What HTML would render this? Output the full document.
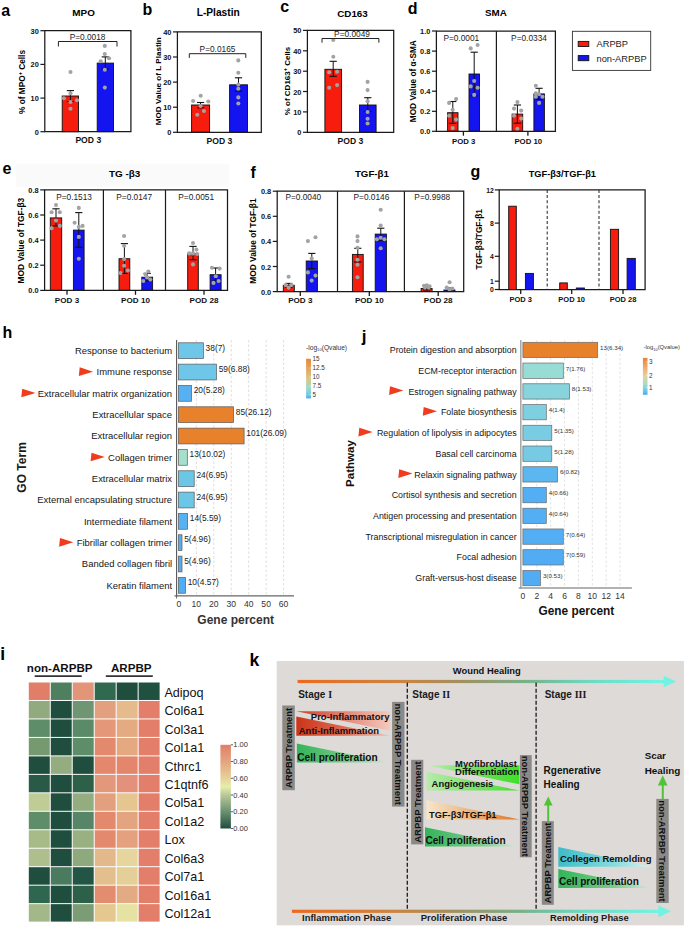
<!DOCTYPE html>
<html><head><meta charset="utf-8"><style>
html,body{margin:0;padding:0;background:#fff;}
body{width:685px;height:927px;overflow:hidden;}
svg{display:block;}
</style></head><body>
<svg width="685" height="927" viewBox="0 0 685 927">
<rect width="685" height="927" fill="#fff"/>
<text x="1.20" y="16.00" font-size="16" font-weight="bold" fill="#000" font-family='"Liberation Sans", sans-serif'>a</text>
<text x="83.60" y="15.84" font-size="9.9" font-weight="bold" text-anchor="middle" fill="#000" font-family='"Liberation Sans", sans-serif' >MPO</text>
<rect x="62.20" y="96.00" width="16.30" height="35.70" fill="#f61c0e" stroke="#111" stroke-width="0.9" />
<rect x="97.20" y="63.10" width="16.30" height="68.60" fill="#1414f0" stroke="#111" stroke-width="0.9" />
<line x1="70.40" y1="90.60" x2="70.40" y2="101.50" stroke="#111" stroke-width="1" />
<line x1="66.80" y1="90.60" x2="74.00" y2="90.60" stroke="#111" stroke-width="1.1" />
<line x1="66.80" y1="101.50" x2="74.00" y2="101.50" stroke="#111" stroke-width="1.1" />
<line x1="105.30" y1="56.90" x2="105.30" y2="69.20" stroke="#111" stroke-width="1" />
<line x1="101.70" y1="56.90" x2="108.90" y2="56.90" stroke="#111" stroke-width="1.1" />
<line x1="101.70" y1="69.20" x2="108.90" y2="69.20" stroke="#111" stroke-width="1.1" />
<circle cx="70.50" cy="72.00" r="2.05" fill="#a3a3a3"/>
<circle cx="70.50" cy="93.30" r="2.05" fill="#a3a3a3"/>
<circle cx="63.90" cy="98.30" r="2.05" fill="#a3a3a3"/>
<circle cx="70.50" cy="102.00" r="2.05" fill="#a3a3a3"/>
<circle cx="77.00" cy="100.30" r="2.05" fill="#a3a3a3"/>
<circle cx="70.50" cy="108.80" r="2.05" fill="#a3a3a3"/>
<circle cx="104.80" cy="45.90" r="2.05" fill="#a3a3a3"/>
<circle cx="104.80" cy="54.00" r="2.05" fill="#a3a3a3"/>
<circle cx="109.00" cy="58.30" r="2.05" fill="#a3a3a3"/>
<circle cx="100.70" cy="61.30" r="2.05" fill="#a3a3a3"/>
<circle cx="104.80" cy="69.70" r="2.05" fill="#a3a3a3"/>
<circle cx="104.80" cy="87.60" r="2.05" fill="#a3a3a3"/>
<path d="M44.80,30.70 L130.90,30.70 L130.90,131.70 L44.80,131.70 Z" fill="none" stroke="#1a1a1a" stroke-width="1.25"/>
<line x1="40.40" y1="30.70" x2="44.80" y2="30.70" stroke="#1a1a1a" stroke-width="1.2" />
<text x="38.80" y="33.75" font-size="7.4" font-weight="bold" text-anchor="end" fill="#111" font-family='"Liberation Sans", sans-serif' >30</text>
<line x1="40.40" y1="64.40" x2="44.80" y2="64.40" stroke="#1a1a1a" stroke-width="1.2" />
<text x="38.80" y="67.45" font-size="7.4" font-weight="bold" text-anchor="end" fill="#111" font-family='"Liberation Sans", sans-serif' >20</text>
<line x1="40.40" y1="98.10" x2="44.80" y2="98.10" stroke="#1a1a1a" stroke-width="1.2" />
<text x="38.80" y="101.15" font-size="7.4" font-weight="bold" text-anchor="end" fill="#111" font-family='"Liberation Sans", sans-serif' >10</text>
<line x1="40.40" y1="131.70" x2="44.80" y2="131.70" stroke="#1a1a1a" stroke-width="1.2" />
<text x="38.80" y="134.75" font-size="7.4" font-weight="bold" text-anchor="end" fill="#111" font-family='"Liberation Sans", sans-serif' >0</text>
<text x="88.30" y="143.28" font-size="8.6" font-weight="bold" text-anchor="middle" fill="#111" font-family='"Liberation Sans", sans-serif' >POD 3</text>
<path d="M58.4,46.5 L58.4,41.5 L117,41.5 L117,46.5" fill="none" stroke="#222" stroke-width="1"/>
<text x="87.60" y="39.77" font-size="8.3" font-weight="normal" text-anchor="middle" fill="#222" font-family='"Liberation Sans", sans-serif' >P=0.0018</text>
<text transform="translate(25.27,82.00) rotate(-90)" font-size="8.3" font-weight="bold" text-anchor="middle" fill="#000" font-family='"Liberation Sans", sans-serif'>% of MPO<tspan font-size="5.5" dy="-3">+</tspan><tspan dy="3"> Cells</tspan></text>
<text x="142.40" y="15.20" font-size="16" font-weight="bold" fill="#000" font-family='"Liberation Sans", sans-serif'>b</text>
<text x="218.20" y="15.95" font-size="10.2" font-weight="bold" text-anchor="middle" fill="#000" font-family='"Liberation Sans", sans-serif' >L-Plastin</text>
<rect x="191.60" y="105.00" width="18.00" height="27.30" fill="#f61c0e" stroke="#111" stroke-width="0.9" />
<rect x="229.60" y="84.80" width="17.90" height="47.50" fill="#1414f0" stroke="#111" stroke-width="0.9" />
<line x1="200.60" y1="102.50" x2="200.60" y2="107.80" stroke="#111" stroke-width="1" />
<line x1="197.00" y1="102.50" x2="204.20" y2="102.50" stroke="#111" stroke-width="1.1" />
<line x1="197.00" y1="107.80" x2="204.20" y2="107.80" stroke="#111" stroke-width="1.1" />
<line x1="238.50" y1="77.80" x2="238.50" y2="91.10" stroke="#111" stroke-width="1" />
<line x1="234.90" y1="77.80" x2="242.10" y2="77.80" stroke="#111" stroke-width="1.1" />
<line x1="234.90" y1="91.10" x2="242.10" y2="91.10" stroke="#111" stroke-width="1.1" />
<circle cx="200.70" cy="95.80" r="2.05" fill="#a3a3a3"/>
<circle cx="193.10" cy="101.00" r="2.05" fill="#a3a3a3"/>
<circle cx="208.30" cy="101.50" r="2.05" fill="#a3a3a3"/>
<circle cx="197.30" cy="114.80" r="2.05" fill="#a3a3a3"/>
<circle cx="203.90" cy="111.00" r="2.05" fill="#a3a3a3"/>
<circle cx="200.60" cy="106.00" r="2.05" fill="#a3a3a3"/>
<circle cx="238.30" cy="60.40" r="2.05" fill="#a3a3a3"/>
<circle cx="238.30" cy="72.80" r="2.05" fill="#a3a3a3"/>
<circle cx="238.30" cy="84.60" r="2.05" fill="#a3a3a3"/>
<circle cx="238.30" cy="88.80" r="2.05" fill="#a3a3a3"/>
<circle cx="238.30" cy="97.40" r="2.05" fill="#a3a3a3"/>
<circle cx="238.30" cy="103.50" r="2.05" fill="#a3a3a3"/>
<path d="M177.40,31.90 L261.30,31.90 L261.30,132.30 L177.40,132.30 Z" fill="none" stroke="#1a1a1a" stroke-width="1.25"/>
<line x1="173.00" y1="31.90" x2="177.40" y2="31.90" stroke="#1a1a1a" stroke-width="1.2" />
<text x="171.40" y="34.95" font-size="7.4" font-weight="bold" text-anchor="end" fill="#111" font-family='"Liberation Sans", sans-serif' >40</text>
<line x1="173.00" y1="57.00" x2="177.40" y2="57.00" stroke="#1a1a1a" stroke-width="1.2" />
<text x="171.40" y="60.05" font-size="7.4" font-weight="bold" text-anchor="end" fill="#111" font-family='"Liberation Sans", sans-serif' >30</text>
<line x1="173.00" y1="82.10" x2="177.40" y2="82.10" stroke="#1a1a1a" stroke-width="1.2" />
<text x="171.40" y="85.15" font-size="7.4" font-weight="bold" text-anchor="end" fill="#111" font-family='"Liberation Sans", sans-serif' >20</text>
<line x1="173.00" y1="107.20" x2="177.40" y2="107.20" stroke="#1a1a1a" stroke-width="1.2" />
<text x="171.40" y="110.25" font-size="7.4" font-weight="bold" text-anchor="end" fill="#111" font-family='"Liberation Sans", sans-serif' >10</text>
<line x1="173.00" y1="132.30" x2="177.40" y2="132.30" stroke="#1a1a1a" stroke-width="1.2" />
<text x="171.40" y="135.35" font-size="7.4" font-weight="bold" text-anchor="end" fill="#111" font-family='"Liberation Sans", sans-serif' >0</text>
<text x="219.40" y="144.48" font-size="8.6" font-weight="bold" text-anchor="middle" fill="#111" font-family='"Liberation Sans", sans-serif' >POD 3</text>
<path d="M189.3,57.9 L189.3,53.7 L245.8,53.7 L245.8,57.9" fill="none" stroke="#222" stroke-width="1"/>
<text x="217.50" y="51.97" font-size="8.3" font-weight="normal" text-anchor="middle" fill="#222" font-family='"Liberation Sans", sans-serif' >P=0.0165</text>
<text transform="translate(160.50,81.20) rotate(-90)" font-size="8.1" font-weight="bold" text-anchor="middle" fill="#000" font-family='"Liberation Sans", sans-serif'>MOD Value of L Plastin</text>
<text x="280.20" y="12.30" font-size="16" font-weight="bold" fill="#000" font-family='"Liberation Sans", sans-serif'>c</text>
<text x="352.50" y="16.61" font-size="9.8" font-weight="bold" text-anchor="middle" fill="#000" font-family='"Liberation Sans", sans-serif' >CD163</text>
<rect x="324.90" y="69.30" width="16.70" height="63.00" fill="#f61c0e" stroke="#111" stroke-width="0.9" />
<rect x="359.50" y="105.00" width="16.60" height="27.30" fill="#1414f0" stroke="#111" stroke-width="0.9" />
<line x1="333.20" y1="61.30" x2="333.20" y2="76.30" stroke="#111" stroke-width="1" />
<line x1="329.60" y1="61.30" x2="336.80" y2="61.30" stroke="#111" stroke-width="1.1" />
<line x1="329.60" y1="76.30" x2="336.80" y2="76.30" stroke="#111" stroke-width="1.1" />
<line x1="367.80" y1="97.70" x2="367.80" y2="111.60" stroke="#111" stroke-width="1" />
<line x1="364.20" y1="97.70" x2="371.40" y2="97.70" stroke="#111" stroke-width="1.1" />
<line x1="364.20" y1="111.60" x2="371.40" y2="111.60" stroke="#111" stroke-width="1.1" />
<circle cx="333.30" cy="40.00" r="2.05" fill="#a3a3a3"/>
<circle cx="333.30" cy="56.80" r="2.05" fill="#a3a3a3"/>
<circle cx="329.20" cy="72.20" r="2.05" fill="#a3a3a3"/>
<circle cx="337.10" cy="71.70" r="2.05" fill="#a3a3a3"/>
<circle cx="337.10" cy="85.10" r="2.05" fill="#a3a3a3"/>
<circle cx="329.20" cy="87.80" r="2.05" fill="#a3a3a3"/>
<circle cx="367.60" cy="81.90" r="2.05" fill="#a3a3a3"/>
<circle cx="367.60" cy="90.10" r="2.05" fill="#a3a3a3"/>
<circle cx="367.60" cy="101.20" r="2.05" fill="#a3a3a3"/>
<circle cx="367.60" cy="112.00" r="2.05" fill="#a3a3a3"/>
<circle cx="367.60" cy="118.70" r="2.05" fill="#a3a3a3"/>
<circle cx="367.60" cy="123.50" r="2.05" fill="#a3a3a3"/>
<path d="M307.40,30.40 L393.70,30.40 L393.70,132.30 L307.40,132.30 Z" fill="none" stroke="#1a1a1a" stroke-width="1.25"/>
<line x1="303.00" y1="30.40" x2="307.40" y2="30.40" stroke="#1a1a1a" stroke-width="1.2" />
<text x="301.40" y="33.45" font-size="7.4" font-weight="bold" text-anchor="end" fill="#111" font-family='"Liberation Sans", sans-serif' >50</text>
<line x1="303.00" y1="50.80" x2="307.40" y2="50.80" stroke="#1a1a1a" stroke-width="1.2" />
<text x="301.40" y="53.85" font-size="7.4" font-weight="bold" text-anchor="end" fill="#111" font-family='"Liberation Sans", sans-serif' >40</text>
<line x1="303.00" y1="71.20" x2="307.40" y2="71.20" stroke="#1a1a1a" stroke-width="1.2" />
<text x="301.40" y="74.25" font-size="7.4" font-weight="bold" text-anchor="end" fill="#111" font-family='"Liberation Sans", sans-serif' >30</text>
<line x1="303.00" y1="91.50" x2="307.40" y2="91.50" stroke="#1a1a1a" stroke-width="1.2" />
<text x="301.40" y="94.55" font-size="7.4" font-weight="bold" text-anchor="end" fill="#111" font-family='"Liberation Sans", sans-serif' >20</text>
<line x1="303.00" y1="111.90" x2="307.40" y2="111.90" stroke="#1a1a1a" stroke-width="1.2" />
<text x="301.40" y="114.95" font-size="7.4" font-weight="bold" text-anchor="end" fill="#111" font-family='"Liberation Sans", sans-serif' >10</text>
<line x1="303.00" y1="132.30" x2="307.40" y2="132.30" stroke="#1a1a1a" stroke-width="1.2" />
<text x="301.40" y="135.35" font-size="7.4" font-weight="bold" text-anchor="end" fill="#111" font-family='"Liberation Sans", sans-serif' >0</text>
<text x="350.50" y="144.48" font-size="8.6" font-weight="bold" text-anchor="middle" fill="#111" font-family='"Liberation Sans", sans-serif' >POD 3</text>
<path d="M322,42.7 L322,38.5 L378.9,38.5 L378.9,42.7" fill="none" stroke="#222" stroke-width="1"/>
<text x="352.00" y="37.47" font-size="8.3" font-weight="normal" text-anchor="middle" fill="#222" font-family='"Liberation Sans", sans-serif' >P=0.0049</text>
<text transform="translate(289.66,81.00) rotate(-90)" font-size="8.0" font-weight="bold" text-anchor="middle" fill="#000" font-family='"Liberation Sans", sans-serif'>% of CD163<tspan font-size="5.5" dy="-3">+</tspan><tspan dy="3"> Cells</tspan></text>
<text x="407.80" y="14.20" font-size="16" font-weight="bold" fill="#000" font-family='"Liberation Sans", sans-serif'>d</text>
<text x="495.90" y="16.41" font-size="9.8" font-weight="bold" text-anchor="middle" fill="#000" font-family='"Liberation Sans", sans-serif' >SMA</text>
<rect x="447.60" y="112.70" width="10.40" height="18.60" fill="#f61c0e" stroke="#111" stroke-width="0.9" />
<rect x="469.00" y="74.00" width="10.50" height="57.30" fill="#1414f0" stroke="#111" stroke-width="0.9" />
<rect x="512.10" y="114.10" width="10.60" height="17.20" fill="#f61c0e" stroke="#111" stroke-width="0.9" />
<rect x="533.90" y="93.90" width="10.50" height="37.40" fill="#1414f0" stroke="#111" stroke-width="0.9" />
<line x1="452.80" y1="101.50" x2="452.80" y2="123.40" stroke="#111" stroke-width="1" />
<line x1="449.20" y1="101.50" x2="456.40" y2="101.50" stroke="#111" stroke-width="1.1" />
<line x1="449.20" y1="123.40" x2="456.40" y2="123.40" stroke="#111" stroke-width="1.1" />
<line x1="474.20" y1="52.20" x2="474.20" y2="95.80" stroke="#111" stroke-width="1" />
<line x1="470.60" y1="52.20" x2="477.80" y2="52.20" stroke="#111" stroke-width="1.1" />
<line x1="470.60" y1="95.80" x2="477.80" y2="95.80" stroke="#111" stroke-width="1.1" />
<line x1="517.40" y1="105.00" x2="517.40" y2="123.20" stroke="#111" stroke-width="1" />
<line x1="513.80" y1="105.00" x2="521.00" y2="105.00" stroke="#111" stroke-width="1.1" />
<line x1="513.80" y1="123.20" x2="521.00" y2="123.20" stroke="#111" stroke-width="1.1" />
<line x1="539.10" y1="88.30" x2="539.10" y2="99.50" stroke="#111" stroke-width="1" />
<line x1="535.50" y1="88.30" x2="542.70" y2="88.30" stroke="#111" stroke-width="1.1" />
<line x1="535.50" y1="99.50" x2="542.70" y2="99.50" stroke="#111" stroke-width="1.1" />
<circle cx="449.10" cy="102.90" r="2.05" fill="#a3a3a3"/>
<circle cx="456.10" cy="99.10" r="2.05" fill="#a3a3a3"/>
<circle cx="452.70" cy="109.70" r="2.05" fill="#a3a3a3"/>
<circle cx="449.10" cy="115.80" r="2.05" fill="#a3a3a3"/>
<circle cx="456.10" cy="119.60" r="2.05" fill="#a3a3a3"/>
<circle cx="452.70" cy="128.10" r="2.05" fill="#a3a3a3"/>
<circle cx="470.70" cy="48.40" r="2.05" fill="#a3a3a3"/>
<circle cx="477.60" cy="45.00" r="2.05" fill="#a3a3a3"/>
<circle cx="474.20" cy="81.00" r="2.05" fill="#a3a3a3"/>
<circle cx="470.70" cy="86.40" r="2.05" fill="#a3a3a3"/>
<circle cx="477.60" cy="87.70" r="2.05" fill="#a3a3a3"/>
<circle cx="474.20" cy="94.90" r="2.05" fill="#a3a3a3"/>
<circle cx="517.40" cy="102.10" r="2.05" fill="#a3a3a3"/>
<circle cx="514.00" cy="108.60" r="2.05" fill="#a3a3a3"/>
<circle cx="521.20" cy="110.60" r="2.05" fill="#a3a3a3"/>
<circle cx="514.00" cy="115.80" r="2.05" fill="#a3a3a3"/>
<circle cx="521.20" cy="118.60" r="2.05" fill="#a3a3a3"/>
<circle cx="517.40" cy="128.70" r="2.05" fill="#a3a3a3"/>
<circle cx="535.80" cy="85.80" r="2.05" fill="#a3a3a3"/>
<circle cx="535.80" cy="93.40" r="2.05" fill="#a3a3a3"/>
<circle cx="539.10" cy="94.30" r="2.05" fill="#a3a3a3"/>
<circle cx="542.50" cy="96.80" r="2.05" fill="#a3a3a3"/>
<circle cx="535.80" cy="96.80" r="2.05" fill="#a3a3a3"/>
<circle cx="539.10" cy="102.90" r="2.05" fill="#a3a3a3"/>
<path d="M436.40,31.00 L555.40,31.00 L555.40,131.30 L436.40,131.30 Z" fill="none" stroke="#1a1a1a" stroke-width="1.25"/>
<line x1="496.40" y1="31.00" x2="496.40" y2="131.30" stroke="#1a1a1a" stroke-width="1.2" />
<line x1="432.00" y1="31.00" x2="436.40" y2="31.00" stroke="#1a1a1a" stroke-width="1.2" />
<text x="430.40" y="34.05" font-size="7.4" font-weight="bold" text-anchor="end" fill="#111" font-family='"Liberation Sans", sans-serif' >1.0</text>
<line x1="432.00" y1="51.10" x2="436.40" y2="51.10" stroke="#1a1a1a" stroke-width="1.2" />
<text x="430.40" y="54.15" font-size="7.4" font-weight="bold" text-anchor="end" fill="#111" font-family='"Liberation Sans", sans-serif' >0.8</text>
<line x1="432.00" y1="71.20" x2="436.40" y2="71.20" stroke="#1a1a1a" stroke-width="1.2" />
<text x="430.40" y="74.25" font-size="7.4" font-weight="bold" text-anchor="end" fill="#111" font-family='"Liberation Sans", sans-serif' >0.6</text>
<line x1="432.00" y1="91.20" x2="436.40" y2="91.20" stroke="#1a1a1a" stroke-width="1.2" />
<text x="430.40" y="94.25" font-size="7.4" font-weight="bold" text-anchor="end" fill="#111" font-family='"Liberation Sans", sans-serif' >0.4</text>
<line x1="432.00" y1="111.30" x2="436.40" y2="111.30" stroke="#1a1a1a" stroke-width="1.2" />
<text x="430.40" y="114.35" font-size="7.4" font-weight="bold" text-anchor="end" fill="#111" font-family='"Liberation Sans", sans-serif' >0.2</text>
<line x1="432.00" y1="131.30" x2="436.40" y2="131.30" stroke="#1a1a1a" stroke-width="1.2" />
<text x="430.40" y="134.35" font-size="7.4" font-weight="bold" text-anchor="end" fill="#111" font-family='"Liberation Sans", sans-serif' >0.0</text>
<line x1="463.40" y1="131.30" x2="463.40" y2="135.70" stroke="#1a1a1a" stroke-width="1.3" />
<line x1="527.90" y1="131.30" x2="527.90" y2="135.70" stroke="#1a1a1a" stroke-width="1.3" />
<text x="463.70" y="144.19" font-size="7.8" font-weight="bold" text-anchor="middle" fill="#111" font-family='"Liberation Sans", sans-serif' >POD 3</text>
<text x="528.30" y="144.19" font-size="7.8" font-weight="bold" text-anchor="middle" fill="#111" font-family='"Liberation Sans", sans-serif' >POD 10</text>
<text x="461.35" y="40.87" font-size="8.3" font-weight="normal" text-anchor="middle" fill="#222" font-family='"Liberation Sans", sans-serif' >P=0.0001</text>
<text x="529.00" y="40.87" font-size="8.3" font-weight="normal" text-anchor="middle" fill="#222" font-family='"Liberation Sans", sans-serif' >P=0.0334</text>
<text transform="translate(416.07,81.20) rotate(-90)" font-size="8.3" font-weight="bold" text-anchor="middle" fill="#000" font-family='"Liberation Sans", sans-serif'>MOD Value of α-SMA</text>
<rect x="572.40" y="31.30" width="78.30" height="39.10" fill="#fff" stroke="#333" stroke-width="0.9" />
<rect x="578.20" y="41.40" width="10.60" height="5.10" fill="#f61c0e" stroke="#111" stroke-width="0.9" />
<rect x="578.20" y="55.60" width="10.60" height="5.10" fill="#1414f0" stroke="#111" stroke-width="0.9" />
<text x="596.50" y="47.33" font-size="9.3" font-weight="normal" text-anchor="start" fill="#222" font-family='"Liberation Sans", sans-serif' >ARPBP</text>
<text x="596.50" y="61.53" font-size="9.3" font-weight="normal" text-anchor="start" fill="#222" font-family='"Liberation Sans", sans-serif' >non-ARPBP</text>
<rect x="15.80" y="164.30" width="213.70" height="22.70" fill="#fafafb" stroke="none" stroke-width="1" />
<text x="2.60" y="173.70" font-size="16" font-weight="bold" fill="#000" font-family='"Liberation Sans", sans-serif'>e</text>
<text x="124.70" y="177.24" font-size="9.9" font-weight="bold" text-anchor="middle" fill="#000" font-family='"Liberation Sans", sans-serif' >TG -β3</text>
<rect x="50.30" y="217.90" width="11.40" height="72.50" fill="#f61c0e" stroke="#111" stroke-width="0.9" />
<rect x="73.40" y="230.10" width="10.70" height="60.30" fill="#1414f0" stroke="#111" stroke-width="0.9" />
<rect x="119.00" y="258.70" width="10.80" height="31.70" fill="#f61c0e" stroke="#111" stroke-width="0.9" />
<rect x="141.80" y="277.20" width="10.80" height="13.20" fill="#1414f0" stroke="#111" stroke-width="0.9" />
<rect x="187.70" y="253.40" width="10.60" height="37.00" fill="#f61c0e" stroke="#111" stroke-width="0.9" />
<rect x="210.10" y="274.70" width="11.00" height="15.70" fill="#1414f0" stroke="#111" stroke-width="0.9" />
<line x1="56.00" y1="208.80" x2="56.00" y2="225.90" stroke="#111" stroke-width="1" />
<line x1="52.40" y1="208.80" x2="59.60" y2="208.80" stroke="#111" stroke-width="1.1" />
<line x1="52.40" y1="225.90" x2="59.60" y2="225.90" stroke="#111" stroke-width="1.1" />
<line x1="78.80" y1="212.60" x2="78.80" y2="247.20" stroke="#111" stroke-width="1" />
<line x1="75.20" y1="212.60" x2="82.40" y2="212.60" stroke="#111" stroke-width="1.1" />
<line x1="75.20" y1="247.20" x2="82.40" y2="247.20" stroke="#111" stroke-width="1.1" />
<line x1="124.40" y1="243.60" x2="124.40" y2="273.40" stroke="#111" stroke-width="1" />
<line x1="120.80" y1="243.60" x2="128.00" y2="243.60" stroke="#111" stroke-width="1.1" />
<line x1="120.80" y1="273.40" x2="128.00" y2="273.40" stroke="#111" stroke-width="1.1" />
<line x1="147.20" y1="273.40" x2="147.20" y2="281.00" stroke="#111" stroke-width="1" />
<line x1="143.60" y1="273.40" x2="150.80" y2="273.40" stroke="#111" stroke-width="1.1" />
<line x1="143.60" y1="281.00" x2="150.80" y2="281.00" stroke="#111" stroke-width="1.1" />
<line x1="193.00" y1="246.40" x2="193.00" y2="259.70" stroke="#111" stroke-width="1" />
<line x1="189.40" y1="246.40" x2="196.60" y2="246.40" stroke="#111" stroke-width="1.1" />
<line x1="189.40" y1="259.70" x2="196.60" y2="259.70" stroke="#111" stroke-width="1.1" />
<line x1="215.60" y1="268.00" x2="215.60" y2="281.00" stroke="#111" stroke-width="1" />
<line x1="212.00" y1="268.00" x2="219.20" y2="268.00" stroke="#111" stroke-width="1.1" />
<line x1="212.00" y1="281.00" x2="219.20" y2="281.00" stroke="#111" stroke-width="1.1" />
<circle cx="56.00" cy="205.00" r="2.05" fill="#a3a3a3"/>
<circle cx="51.60" cy="212.30" r="2.05" fill="#a3a3a3"/>
<circle cx="59.80" cy="212.30" r="2.05" fill="#a3a3a3"/>
<circle cx="56.00" cy="220.60" r="2.05" fill="#a3a3a3"/>
<circle cx="51.60" cy="228.20" r="2.05" fill="#a3a3a3"/>
<circle cx="59.80" cy="225.90" r="2.05" fill="#a3a3a3"/>
<circle cx="78.80" cy="207.90" r="2.05" fill="#a3a3a3"/>
<circle cx="74.60" cy="222.70" r="2.05" fill="#a3a3a3"/>
<circle cx="78.80" cy="226.90" r="2.05" fill="#a3a3a3"/>
<circle cx="82.60" cy="225.90" r="2.05" fill="#a3a3a3"/>
<circle cx="78.80" cy="236.90" r="2.05" fill="#a3a3a3"/>
<circle cx="78.80" cy="258.70" r="2.05" fill="#a3a3a3"/>
<circle cx="124.10" cy="236.00" r="2.05" fill="#a3a3a3"/>
<circle cx="124.10" cy="245.80" r="2.05" fill="#a3a3a3"/>
<circle cx="124.10" cy="259.10" r="2.05" fill="#a3a3a3"/>
<circle cx="124.10" cy="265.80" r="2.05" fill="#a3a3a3"/>
<circle cx="120.50" cy="273.00" r="2.05" fill="#a3a3a3"/>
<circle cx="127.90" cy="270.50" r="2.05" fill="#a3a3a3"/>
<circle cx="148.40" cy="271.50" r="2.05" fill="#a3a3a3"/>
<circle cx="145.50" cy="274.30" r="2.05" fill="#a3a3a3"/>
<circle cx="143.30" cy="281.00" r="2.05" fill="#a3a3a3"/>
<circle cx="150.30" cy="279.60" r="2.05" fill="#a3a3a3"/>
<circle cx="147.10" cy="277.50" r="2.05" fill="#a3a3a3"/>
<circle cx="193.00" cy="243.00" r="2.05" fill="#a3a3a3"/>
<circle cx="196.40" cy="249.60" r="2.05" fill="#a3a3a3"/>
<circle cx="189.20" cy="253.40" r="2.05" fill="#a3a3a3"/>
<circle cx="193.00" cy="253.40" r="2.05" fill="#a3a3a3"/>
<circle cx="197.20" cy="254.00" r="2.05" fill="#a3a3a3"/>
<circle cx="193.00" cy="264.40" r="2.05" fill="#a3a3a3"/>
<circle cx="212.00" cy="267.70" r="2.05" fill="#a3a3a3"/>
<circle cx="219.60" cy="268.60" r="2.05" fill="#a3a3a3"/>
<circle cx="215.80" cy="276.20" r="2.05" fill="#a3a3a3"/>
<circle cx="213.50" cy="282.90" r="2.05" fill="#a3a3a3"/>
<circle cx="218.60" cy="281.00" r="2.05" fill="#a3a3a3"/>
<path d="M44.60,189.90 L227.50,189.90 L227.50,290.40 L44.60,290.40 Z" fill="none" stroke="#1a1a1a" stroke-width="1.25"/>
<line x1="103.40" y1="189.90" x2="103.40" y2="290.40" stroke="#1a1a1a" stroke-width="1.2" />
<line x1="165.50" y1="189.90" x2="165.50" y2="290.40" stroke="#1a1a1a" stroke-width="1.2" />
<line x1="40.20" y1="189.90" x2="44.60" y2="189.90" stroke="#1a1a1a" stroke-width="1.2" />
<text x="38.60" y="192.95" font-size="7.4" font-weight="bold" text-anchor="end" fill="#111" font-family='"Liberation Sans", sans-serif' >0.8</text>
<line x1="40.20" y1="215.00" x2="44.60" y2="215.00" stroke="#1a1a1a" stroke-width="1.2" />
<text x="38.60" y="218.05" font-size="7.4" font-weight="bold" text-anchor="end" fill="#111" font-family='"Liberation Sans", sans-serif' >0.6</text>
<line x1="40.20" y1="240.10" x2="44.60" y2="240.10" stroke="#1a1a1a" stroke-width="1.2" />
<text x="38.60" y="243.15" font-size="7.4" font-weight="bold" text-anchor="end" fill="#111" font-family='"Liberation Sans", sans-serif' >0.4</text>
<line x1="40.20" y1="265.20" x2="44.60" y2="265.20" stroke="#1a1a1a" stroke-width="1.2" />
<text x="38.60" y="268.25" font-size="7.4" font-weight="bold" text-anchor="end" fill="#111" font-family='"Liberation Sans", sans-serif' >0.2</text>
<line x1="40.20" y1="290.40" x2="44.60" y2="290.40" stroke="#1a1a1a" stroke-width="1.2" />
<text x="38.60" y="293.45" font-size="7.4" font-weight="bold" text-anchor="end" fill="#111" font-family='"Liberation Sans", sans-serif' >0.0</text>
<line x1="67.00" y1="290.40" x2="67.00" y2="294.80" stroke="#1a1a1a" stroke-width="1.3" />
<line x1="135.50" y1="290.40" x2="135.50" y2="294.80" stroke="#1a1a1a" stroke-width="1.3" />
<line x1="204.00" y1="290.40" x2="204.00" y2="294.80" stroke="#1a1a1a" stroke-width="1.3" />
<text x="67.00" y="303.20" font-size="8.1" font-weight="bold" text-anchor="middle" fill="#111" font-family='"Liberation Sans", sans-serif' >POD 3</text>
<text x="135.50" y="303.20" font-size="8.1" font-weight="bold" text-anchor="middle" fill="#111" font-family='"Liberation Sans", sans-serif' >POD 10</text>
<text x="204.00" y="303.20" font-size="8.1" font-weight="bold" text-anchor="middle" fill="#111" font-family='"Liberation Sans", sans-serif' >POD 28</text>
<text x="74.05" y="199.97" font-size="8.3" font-weight="normal" text-anchor="middle" fill="#222" font-family='"Liberation Sans", sans-serif' >P=0.1513</text>
<text x="134.15" y="199.97" font-size="8.3" font-weight="normal" text-anchor="middle" fill="#222" font-family='"Liberation Sans", sans-serif' >P=0.0147</text>
<text x="196.15" y="199.97" font-size="8.3" font-weight="normal" text-anchor="middle" fill="#222" font-family='"Liberation Sans", sans-serif' >P=0.0051</text>
<text transform="translate(23.51,240.60) rotate(-90)" font-size="8.4" font-weight="bold" text-anchor="middle" fill="#000" font-family='"Liberation Sans", sans-serif'>MOD Value of TGF-β3</text>
<text x="250.60" y="177.50" font-size="16" font-weight="bold" fill="#000" font-family='"Liberation Sans", sans-serif'>f</text>
<text x="371.90" y="177.17" font-size="9.7" font-weight="bold" text-anchor="middle" fill="#000" font-family='"Liberation Sans", sans-serif' >TGF-β1</text>
<rect x="283.30" y="285.30" width="11.00" height="6.30" fill="#f61c0e" stroke="#111" stroke-width="0.9" />
<rect x="306.20" y="261.00" width="11.20" height="30.60" fill="#1414f0" stroke="#111" stroke-width="0.9" />
<rect x="352.40" y="254.40" width="10.80" height="37.20" fill="#f61c0e" stroke="#111" stroke-width="0.9" />
<rect x="375.20" y="234.10" width="11.20" height="57.50" fill="#1414f0" stroke="#111" stroke-width="0.9" />
<rect x="421.10" y="288.50" width="11.00" height="3.10" fill="#f61c0e" stroke="#111" stroke-width="0.9" />
<rect x="443.90" y="290.00" width="11.10" height="1.60" fill="#1414f0" stroke="#111" stroke-width="0.9" />
<line x1="288.80" y1="283.40" x2="288.80" y2="287.50" stroke="#111" stroke-width="1" />
<line x1="285.20" y1="283.40" x2="292.40" y2="283.40" stroke="#111" stroke-width="1.1" />
<line x1="285.20" y1="287.50" x2="292.40" y2="287.50" stroke="#111" stroke-width="1.1" />
<line x1="311.80" y1="253.40" x2="311.80" y2="268.60" stroke="#111" stroke-width="1" />
<line x1="308.20" y1="253.40" x2="315.40" y2="253.40" stroke="#111" stroke-width="1.1" />
<line x1="308.20" y1="268.60" x2="315.40" y2="268.60" stroke="#111" stroke-width="1.1" />
<line x1="357.80" y1="248.30" x2="357.80" y2="262.00" stroke="#111" stroke-width="1" />
<line x1="354.20" y1="248.30" x2="361.40" y2="248.30" stroke="#111" stroke-width="1.1" />
<line x1="354.20" y1="262.00" x2="361.40" y2="262.00" stroke="#111" stroke-width="1.1" />
<line x1="380.80" y1="228.20" x2="380.80" y2="240.70" stroke="#111" stroke-width="1" />
<line x1="377.20" y1="228.20" x2="384.40" y2="228.20" stroke="#111" stroke-width="1.1" />
<line x1="377.20" y1="240.70" x2="384.40" y2="240.70" stroke="#111" stroke-width="1.1" />
<line x1="426.60" y1="286.50" x2="426.60" y2="290.00" stroke="#111" stroke-width="1" />
<line x1="423.00" y1="286.50" x2="430.20" y2="286.50" stroke="#111" stroke-width="1.1" />
<line x1="423.00" y1="290.00" x2="430.20" y2="290.00" stroke="#111" stroke-width="1.1" />
<line x1="449.50" y1="288.00" x2="449.50" y2="291.00" stroke="#111" stroke-width="1" />
<line x1="445.90" y1="288.00" x2="453.10" y2="288.00" stroke="#111" stroke-width="1.1" />
<line x1="445.90" y1="291.00" x2="453.10" y2="291.00" stroke="#111" stroke-width="1.1" />
<circle cx="288.60" cy="276.80" r="2.05" fill="#a3a3a3"/>
<circle cx="285.70" cy="285.10" r="2.05" fill="#a3a3a3"/>
<circle cx="291.40" cy="285.10" r="2.05" fill="#a3a3a3"/>
<circle cx="288.60" cy="287.60" r="2.05" fill="#a3a3a3"/>
<circle cx="307.90" cy="241.10" r="2.05" fill="#a3a3a3"/>
<circle cx="315.50" cy="237.30" r="2.05" fill="#a3a3a3"/>
<circle cx="311.70" cy="258.60" r="2.05" fill="#a3a3a3"/>
<circle cx="307.90" cy="272.40" r="2.05" fill="#a3a3a3"/>
<circle cx="315.50" cy="275.60" r="2.05" fill="#a3a3a3"/>
<circle cx="311.70" cy="280.60" r="2.05" fill="#a3a3a3"/>
<circle cx="357.50" cy="236.40" r="2.05" fill="#a3a3a3"/>
<circle cx="357.50" cy="241.10" r="2.05" fill="#a3a3a3"/>
<circle cx="357.50" cy="247.70" r="2.05" fill="#a3a3a3"/>
<circle cx="357.50" cy="259.70" r="2.05" fill="#a3a3a3"/>
<circle cx="357.50" cy="264.80" r="2.05" fill="#a3a3a3"/>
<circle cx="357.50" cy="277.20" r="2.05" fill="#a3a3a3"/>
<circle cx="380.70" cy="209.80" r="2.05" fill="#a3a3a3"/>
<circle cx="380.70" cy="225.50" r="2.05" fill="#a3a3a3"/>
<circle cx="376.90" cy="239.20" r="2.05" fill="#a3a3a3"/>
<circle cx="384.50" cy="239.20" r="2.05" fill="#a3a3a3"/>
<circle cx="380.70" cy="237.70" r="2.05" fill="#a3a3a3"/>
<circle cx="380.70" cy="248.30" r="2.05" fill="#a3a3a3"/>
<circle cx="424.00" cy="285.70" r="2.05" fill="#a3a3a3"/>
<circle cx="426.80" cy="285.20" r="2.05" fill="#a3a3a3"/>
<circle cx="429.60" cy="286.30" r="2.05" fill="#a3a3a3"/>
<circle cx="425.00" cy="287.60" r="2.05" fill="#a3a3a3"/>
<circle cx="428.70" cy="287.60" r="2.05" fill="#a3a3a3"/>
<circle cx="449.60" cy="282.30" r="2.05" fill="#a3a3a3"/>
<circle cx="446.70" cy="287.60" r="2.05" fill="#a3a3a3"/>
<circle cx="452.40" cy="288.50" r="2.05" fill="#a3a3a3"/>
<circle cx="449.60" cy="289.50" r="2.05" fill="#a3a3a3"/>
<path d="M277.20,191.20 L463.70,191.20 L463.70,291.60 L277.20,291.60 Z" fill="none" stroke="#1a1a1a" stroke-width="1.25"/>
<line x1="337.50" y1="191.20" x2="337.50" y2="291.60" stroke="#1a1a1a" stroke-width="1.2" />
<line x1="404.40" y1="191.20" x2="404.40" y2="291.60" stroke="#1a1a1a" stroke-width="1.2" />
<line x1="272.80" y1="191.20" x2="277.20" y2="191.20" stroke="#1a1a1a" stroke-width="1.2" />
<text x="271.20" y="194.25" font-size="7.4" font-weight="bold" text-anchor="end" fill="#111" font-family='"Liberation Sans", sans-serif' >0.8</text>
<line x1="272.80" y1="216.30" x2="277.20" y2="216.30" stroke="#1a1a1a" stroke-width="1.2" />
<text x="271.20" y="219.35" font-size="7.4" font-weight="bold" text-anchor="end" fill="#111" font-family='"Liberation Sans", sans-serif' >0.6</text>
<line x1="272.80" y1="241.40" x2="277.20" y2="241.40" stroke="#1a1a1a" stroke-width="1.2" />
<text x="271.20" y="244.45" font-size="7.4" font-weight="bold" text-anchor="end" fill="#111" font-family='"Liberation Sans", sans-serif' >0.4</text>
<line x1="272.80" y1="266.50" x2="277.20" y2="266.50" stroke="#1a1a1a" stroke-width="1.2" />
<text x="271.20" y="269.55" font-size="7.4" font-weight="bold" text-anchor="end" fill="#111" font-family='"Liberation Sans", sans-serif' >0.2</text>
<line x1="272.80" y1="291.60" x2="277.20" y2="291.60" stroke="#1a1a1a" stroke-width="1.2" />
<text x="271.20" y="294.65" font-size="7.4" font-weight="bold" text-anchor="end" fill="#111" font-family='"Liberation Sans", sans-serif' >0.0</text>
<line x1="300.30" y1="291.60" x2="300.30" y2="296.00" stroke="#1a1a1a" stroke-width="1.3" />
<line x1="369.30" y1="291.60" x2="369.30" y2="296.00" stroke="#1a1a1a" stroke-width="1.3" />
<line x1="438.20" y1="291.60" x2="438.20" y2="296.00" stroke="#1a1a1a" stroke-width="1.3" />
<text x="300.30" y="303.20" font-size="8.1" font-weight="bold" text-anchor="middle" fill="#111" font-family='"Liberation Sans", sans-serif' >POD 3</text>
<text x="369.30" y="303.20" font-size="8.1" font-weight="bold" text-anchor="middle" fill="#111" font-family='"Liberation Sans", sans-serif' >POD 10</text>
<text x="438.20" y="303.20" font-size="8.1" font-weight="bold" text-anchor="middle" fill="#111" font-family='"Liberation Sans", sans-serif' >POD 28</text>
<text x="303.30" y="199.97" font-size="8.3" font-weight="normal" text-anchor="middle" fill="#222" font-family='"Liberation Sans", sans-serif' >P=0.0040</text>
<text x="371.45" y="199.97" font-size="8.3" font-weight="normal" text-anchor="middle" fill="#222" font-family='"Liberation Sans", sans-serif' >P=0.0146</text>
<text x="432.25" y="199.97" font-size="8.3" font-weight="normal" text-anchor="middle" fill="#222" font-family='"Liberation Sans", sans-serif' >P=0.9988</text>
<text transform="translate(256.09,241.10) rotate(-90)" font-size="8.35" font-weight="bold" text-anchor="middle" fill="#000" font-family='"Liberation Sans", sans-serif'>MOD Value of TGF-β1</text>
<text x="470.60" y="177.00" font-size="16" font-weight="bold" fill="#000" font-family='"Liberation Sans", sans-serif'>g</text>
<text x="562.30" y="177.01" font-size="9.25" font-weight="bold" text-anchor="middle" fill="#000" font-family='"Liberation Sans", sans-serif' >TGF-β3/TGF-β1</text>
<rect x="508.70" y="206.20" width="7.60" height="83.30" fill="#f61c0e" stroke="#111" stroke-width="0.9" />
<rect x="525.40" y="273.40" width="8.00" height="16.10" fill="#1414f0" stroke="#111" stroke-width="0.9" />
<rect x="559.70" y="282.90" width="7.60" height="6.60" fill="#f61c0e" stroke="#111" stroke-width="0.9" />
<rect x="576.30" y="288.00" width="8.10" height="1.50" fill="#1414f0" stroke="#111" stroke-width="0.9" />
<rect x="610.40" y="229.30" width="8.20" height="60.20" fill="#f61c0e" stroke="#111" stroke-width="0.9" />
<rect x="627.10" y="258.40" width="8.20" height="31.10" fill="#1414f0" stroke="#111" stroke-width="0.9" />
<path d="M499.20,189.90 L645.10,189.90 L645.10,289.50 L499.20,289.50 Z" fill="none" stroke="#1a1a1a" stroke-width="1.25"/>
<line x1="547.20" y1="189.90" x2="547.20" y2="289.50" stroke="#333" stroke-width="1.1" stroke-dasharray="3,2.2"/>
<line x1="599.00" y1="189.90" x2="599.00" y2="289.50" stroke="#333" stroke-width="1.1" stroke-dasharray="3,2.2"/>
<line x1="494.80" y1="189.90" x2="499.20" y2="189.90" stroke="#1a1a1a" stroke-width="1.2" />
<text x="493.80" y="192.73" font-size="6.8" font-weight="bold" text-anchor="end" fill="#111" font-family='"Liberation Sans", sans-serif' >12</text>
<line x1="494.80" y1="223.10" x2="499.20" y2="223.10" stroke="#1a1a1a" stroke-width="1.2" />
<text x="493.80" y="225.93" font-size="6.8" font-weight="bold" text-anchor="end" fill="#111" font-family='"Liberation Sans", sans-serif' >8</text>
<line x1="494.80" y1="256.30" x2="499.20" y2="256.30" stroke="#1a1a1a" stroke-width="1.2" />
<text x="493.80" y="259.13" font-size="6.8" font-weight="bold" text-anchor="end" fill="#111" font-family='"Liberation Sans", sans-serif' >4</text>
<line x1="494.80" y1="281.20" x2="499.20" y2="281.20" stroke="#1a1a1a" stroke-width="1.2" />
<text x="493.80" y="284.03" font-size="6.8" font-weight="bold" text-anchor="end" fill="#111" font-family='"Liberation Sans", sans-serif' >1</text>
<line x1="494.80" y1="289.50" x2="499.20" y2="289.50" stroke="#1a1a1a" stroke-width="1.2" />
<text x="493.80" y="292.33" font-size="6.8" font-weight="bold" text-anchor="end" fill="#111" font-family='"Liberation Sans", sans-serif' >0</text>
<line x1="520.70" y1="289.50" x2="520.70" y2="293.90" stroke="#1a1a1a" stroke-width="1.3" />
<line x1="571.70" y1="289.50" x2="571.70" y2="293.90" stroke="#1a1a1a" stroke-width="1.3" />
<line x1="623.00" y1="289.50" x2="623.00" y2="293.90" stroke="#1a1a1a" stroke-width="1.3" />
<text x="520.70" y="302.29" font-size="7.5" font-weight="bold" text-anchor="middle" fill="#111" font-family='"Liberation Sans", sans-serif' >POD 3</text>
<text x="571.70" y="302.29" font-size="7.5" font-weight="bold" text-anchor="middle" fill="#111" font-family='"Liberation Sans", sans-serif' >POD 10</text>
<text x="623.00" y="302.29" font-size="7.5" font-weight="bold" text-anchor="middle" fill="#111" font-family='"Liberation Sans", sans-serif' >POD 28</text>
<text transform="translate(481.57,239.30) rotate(-90)" font-size="8.3" font-weight="bold" text-anchor="middle" fill="#000" font-family='"Liberation Sans", sans-serif'>TGF-β3/TGF-β1</text>
<text x="2.40" y="338.10" font-size="16" font-weight="bold" fill="#000" font-family='"Liberation Sans", sans-serif'>h</text>
<line x1="196.35" y1="340.00" x2="196.35" y2="595.30" stroke="#d6d6d6" stroke-width="0.8" stroke-dasharray="2.5,2"/>
<line x1="213.80" y1="340.00" x2="213.80" y2="595.30" stroke="#d6d6d6" stroke-width="0.8" stroke-dasharray="2.5,2"/>
<line x1="231.25" y1="340.00" x2="231.25" y2="595.30" stroke="#d6d6d6" stroke-width="0.8" stroke-dasharray="2.5,2"/>
<line x1="248.70" y1="340.00" x2="248.70" y2="595.30" stroke="#d6d6d6" stroke-width="0.8" stroke-dasharray="2.5,2"/>
<line x1="266.15" y1="340.00" x2="266.15" y2="595.30" stroke="#d6d6d6" stroke-width="0.8" stroke-dasharray="2.5,2"/>
<line x1="283.60" y1="340.00" x2="283.60" y2="595.30" stroke="#d6d6d6" stroke-width="0.8" stroke-dasharray="2.5,2"/>
<rect x="178.40" y="342.80" width="25.00" height="15.80" fill="#6ec6e8" stroke="#5a5a5a" stroke-width="0.7" />
<text x="205.60" y="350.51" font-size="8.4" font-weight="normal" text-anchor="start" fill="#1a1a1a" font-family='"Liberation Sans", sans-serif' >38(7)</text>
<text x="172.10" y="354.08" font-size="9.45" font-weight="normal" text-anchor="end" fill="#151515" font-family='"Liberation Sans", sans-serif' >Response to bacterium</text>
<rect x="178.40" y="364.13" width="38.10" height="15.80" fill="#6ec6e8" stroke="#5a5a5a" stroke-width="0.7" />
<text x="218.70" y="371.84" font-size="8.4" font-weight="normal" text-anchor="start" fill="#1a1a1a" font-family='"Liberation Sans", sans-serif' >59(6.88)</text>
<text x="172.10" y="375.41" font-size="9.45" font-weight="normal" text-anchor="end" fill="#151515" font-family='"Liberation Sans", sans-serif' >Immune response</text>
<path d="M79.70,367.33 L93.00,371.63 L78.80,376.03 Z" fill="#f03c1c"/>
<rect x="178.40" y="385.46" width="13.10" height="15.80" fill="#56b0f2" stroke="#5a5a5a" stroke-width="0.7" />
<text x="193.70" y="393.17" font-size="8.4" font-weight="normal" text-anchor="start" fill="#1a1a1a" font-family='"Liberation Sans", sans-serif' >20(5.28)</text>
<text x="172.10" y="396.74" font-size="9.45" font-weight="normal" text-anchor="end" fill="#151515" font-family='"Liberation Sans", sans-serif' >Extracellular matrix organization</text>
<path d="M22.20,388.66 L35.50,392.96 L21.30,397.36 Z" fill="#f03c1c"/>
<rect x="178.40" y="406.79" width="55.20" height="15.80" fill="#e8812c" stroke="#5a5a5a" stroke-width="0.7" />
<text x="235.80" y="414.50" font-size="8.4" font-weight="normal" text-anchor="start" fill="#1a1a1a" font-family='"Liberation Sans", sans-serif' >85(26.12)</text>
<text x="172.10" y="418.07" font-size="9.45" font-weight="normal" text-anchor="end" fill="#151515" font-family='"Liberation Sans", sans-serif' >Extracellular space</text>
<rect x="178.40" y="428.12" width="65.70" height="15.80" fill="#e8812c" stroke="#5a5a5a" stroke-width="0.7" />
<text x="246.30" y="435.83" font-size="8.4" font-weight="normal" text-anchor="start" fill="#1a1a1a" font-family='"Liberation Sans", sans-serif' >101(26.09)</text>
<text x="172.10" y="439.40" font-size="9.45" font-weight="normal" text-anchor="end" fill="#151515" font-family='"Liberation Sans", sans-serif' >Extracellular region</text>
<rect x="178.40" y="449.45" width="8.90" height="15.80" fill="#a6e0cc" stroke="#5a5a5a" stroke-width="0.7" />
<text x="189.50" y="457.16" font-size="8.4" font-weight="normal" text-anchor="start" fill="#1a1a1a" font-family='"Liberation Sans", sans-serif' >13(10.02)</text>
<text x="172.10" y="460.73" font-size="9.45" font-weight="normal" text-anchor="end" fill="#151515" font-family='"Liberation Sans", sans-serif' >Collagen trimer</text>
<path d="M91.50,452.65 L104.80,456.95 L90.60,461.35 Z" fill="#f03c1c"/>
<rect x="178.40" y="470.78" width="15.80" height="15.80" fill="#6cc6e6" stroke="#5a5a5a" stroke-width="0.7" />
<text x="196.40" y="478.49" font-size="8.4" font-weight="normal" text-anchor="start" fill="#1a1a1a" font-family='"Liberation Sans", sans-serif' >24(6.95)</text>
<text x="172.10" y="482.06" font-size="9.45" font-weight="normal" text-anchor="end" fill="#151515" font-family='"Liberation Sans", sans-serif' >Extracellular matrix</text>
<rect x="178.40" y="492.11" width="15.80" height="15.80" fill="#6cc6e6" stroke="#5a5a5a" stroke-width="0.7" />
<text x="196.40" y="499.82" font-size="8.4" font-weight="normal" text-anchor="start" fill="#1a1a1a" font-family='"Liberation Sans", sans-serif' >24(6.95)</text>
<text x="172.10" y="503.39" font-size="9.45" font-weight="normal" text-anchor="end" fill="#151515" font-family='"Liberation Sans", sans-serif' >External encapsulating structure</text>
<rect x="178.40" y="513.44" width="9.20" height="15.80" fill="#58b2f2" stroke="#5a5a5a" stroke-width="0.7" />
<text x="189.80" y="521.15" font-size="8.4" font-weight="normal" text-anchor="start" fill="#1a1a1a" font-family='"Liberation Sans", sans-serif' >14(5.59)</text>
<text x="172.10" y="524.72" font-size="9.45" font-weight="normal" text-anchor="end" fill="#151515" font-family='"Liberation Sans", sans-serif' >Intermediate filament</text>
<rect x="178.40" y="534.77" width="3.60" height="15.80" fill="#52aef4" stroke="#5a5a5a" stroke-width="0.7" />
<text x="184.20" y="542.48" font-size="8.4" font-weight="normal" text-anchor="start" fill="#1a1a1a" font-family='"Liberation Sans", sans-serif' >5(4.96)</text>
<text x="172.10" y="546.05" font-size="9.45" font-weight="normal" text-anchor="end" fill="#151515" font-family='"Liberation Sans", sans-serif' >Fibrillar collagen trimer</text>
<path d="M60.00,537.97 L73.30,542.27 L59.10,546.67 Z" fill="#f03c1c"/>
<rect x="178.40" y="556.10" width="3.60" height="15.80" fill="#52aef4" stroke="#5a5a5a" stroke-width="0.7" />
<text x="184.20" y="563.81" font-size="8.4" font-weight="normal" text-anchor="start" fill="#1a1a1a" font-family='"Liberation Sans", sans-serif' >5(4.96)</text>
<text x="172.10" y="567.38" font-size="9.45" font-weight="normal" text-anchor="end" fill="#151515" font-family='"Liberation Sans", sans-serif' >Banded collagen fibril</text>
<rect x="178.40" y="577.43" width="7.10" height="15.80" fill="#52aef4" stroke="#5a5a5a" stroke-width="0.7" />
<text x="187.70" y="585.14" font-size="8.4" font-weight="normal" text-anchor="start" fill="#1a1a1a" font-family='"Liberation Sans", sans-serif' >10(4.57)</text>
<text x="172.10" y="588.71" font-size="9.45" font-weight="normal" text-anchor="end" fill="#151515" font-family='"Liberation Sans", sans-serif' >Keratin filament</text>
<line x1="176.60" y1="340.00" x2="176.60" y2="596.40" stroke="#555" stroke-width="1.1" />
<line x1="174.50" y1="595.80" x2="294.00" y2="595.80" stroke="#666" stroke-width="1.2" />
<line x1="176.60" y1="595.80" x2="176.60" y2="598.50" stroke="#666" stroke-width="1" />
<text x="178.90" y="607.08" font-size="8.6" font-weight="normal" text-anchor="middle" fill="#333" font-family='"Liberation Sans", sans-serif' >0</text>
<text x="196.35" y="607.08" font-size="8.6" font-weight="normal" text-anchor="middle" fill="#333" font-family='"Liberation Sans", sans-serif' >10</text>
<text x="213.80" y="607.08" font-size="8.6" font-weight="normal" text-anchor="middle" fill="#333" font-family='"Liberation Sans", sans-serif' >20</text>
<text x="231.25" y="607.08" font-size="8.6" font-weight="normal" text-anchor="middle" fill="#333" font-family='"Liberation Sans", sans-serif' >30</text>
<text x="248.70" y="607.08" font-size="8.6" font-weight="normal" text-anchor="middle" fill="#333" font-family='"Liberation Sans", sans-serif' >40</text>
<text x="266.15" y="607.08" font-size="8.6" font-weight="normal" text-anchor="middle" fill="#333" font-family='"Liberation Sans", sans-serif' >50</text>
<text x="283.60" y="607.08" font-size="8.6" font-weight="normal" text-anchor="middle" fill="#333" font-family='"Liberation Sans", sans-serif' >60</text>
<text x="235.70" y="624.20" font-size="12.0" font-weight="bold" text-anchor="middle" fill="#333" font-family='"Liberation Sans", sans-serif' >Gene percent</text>
<text transform="translate(25.70,467.40) rotate(-90)" font-size="12.0" font-weight="bold" text-anchor="middle" fill="#1a1a1a" font-family='"Liberation Sans", sans-serif'>GO Term</text>
<defs><linearGradient id="cbh" x1="0" y1="0" x2="0" y2="1"><stop offset="0" stop-color="#e8863a"/><stop offset="0.25" stop-color="#e4a560"/><stop offset="0.5" stop-color="#d8c888"/><stop offset="0.75" stop-color="#9cdcc8"/><stop offset="0.92" stop-color="#6cc8ea"/><stop offset="1" stop-color="#4aa8f4"/></linearGradient><linearGradient id="cbj" x1="0" y1="0" x2="0" y2="1"><stop offset="0" stop-color="#ec8030"/><stop offset="0.3" stop-color="#eeb27a"/><stop offset="0.52" stop-color="#e2d49a"/><stop offset="0.72" stop-color="#a2dcc8"/><stop offset="0.86" stop-color="#72cee6"/><stop offset="1" stop-color="#4ea8f4"/></linearGradient></defs>
<rect x="306.10" y="358.70" width="4.90" height="39.70" fill="url(#cbh)" stroke="none" stroke-width="1" />
<line x1="309.50" y1="358.70" x2="311.00" y2="358.70" stroke="#fff" stroke-width="0.6" />
<text x="312.60" y="360.96" font-size="6.3" font-weight="normal" text-anchor="start" fill="#333" font-family='"Liberation Sans", sans-serif' >15</text>
<line x1="309.50" y1="368.00" x2="311.00" y2="368.00" stroke="#fff" stroke-width="0.6" />
<text x="312.60" y="370.26" font-size="6.3" font-weight="normal" text-anchor="start" fill="#333" font-family='"Liberation Sans", sans-serif' >12.5</text>
<line x1="309.50" y1="377.10" x2="311.00" y2="377.10" stroke="#fff" stroke-width="0.6" />
<text x="312.60" y="379.36" font-size="6.3" font-weight="normal" text-anchor="start" fill="#333" font-family='"Liberation Sans", sans-serif' >10</text>
<line x1="309.50" y1="386.10" x2="311.00" y2="386.10" stroke="#fff" stroke-width="0.6" />
<text x="312.60" y="388.36" font-size="6.3" font-weight="normal" text-anchor="start" fill="#333" font-family='"Liberation Sans", sans-serif' >7.5</text>
<line x1="309.50" y1="394.70" x2="311.00" y2="394.70" stroke="#fff" stroke-width="0.6" />
<text x="312.60" y="396.96" font-size="6.3" font-weight="normal" text-anchor="start" fill="#333" font-family='"Liberation Sans", sans-serif' >5</text>
<text x="306.10" y="349.96" font-size="6.6" font-weight="normal" text-anchor="start" fill="#333" font-family='"Liberation Sans", sans-serif' >-log<tspan font-size="4.2" dy="1.5">10</tspan><tspan dy="-1.5">(Qvalue)</tspan></text>
<text x="361.7" y="341.6" font-size="17" font-weight="bold" fill="#000" font-family='"Liberation Sans", sans-serif'>j</text>
<line x1="536.78" y1="340.00" x2="536.78" y2="587.50" stroke="#dcdcdc" stroke-width="0.8" stroke-dasharray="2.5,2"/>
<line x1="550.66" y1="340.00" x2="550.66" y2="587.50" stroke="#dcdcdc" stroke-width="0.8" stroke-dasharray="2.5,2"/>
<line x1="564.54" y1="340.00" x2="564.54" y2="587.50" stroke="#dcdcdc" stroke-width="0.8" stroke-dasharray="2.5,2"/>
<line x1="578.42" y1="340.00" x2="578.42" y2="587.50" stroke="#dcdcdc" stroke-width="0.8" stroke-dasharray="2.5,2"/>
<line x1="592.30" y1="340.00" x2="592.30" y2="587.50" stroke="#dcdcdc" stroke-width="0.8" stroke-dasharray="2.5,2"/>
<line x1="606.18" y1="340.00" x2="606.18" y2="587.50" stroke="#dcdcdc" stroke-width="0.8" stroke-dasharray="2.5,2"/>
<line x1="620.06" y1="340.00" x2="620.06" y2="587.50" stroke="#dcdcdc" stroke-width="0.8" stroke-dasharray="2.5,2"/>
<rect x="522.90" y="342.30" width="74.80" height="15.30" fill="#e8812c" stroke="#6a6a6a" stroke-width="0.7" />
<text x="600.10" y="349.92" font-size="6.2" font-weight="normal" text-anchor="start" fill="#333" font-family='"Liberation Sans", sans-serif' >13(6.34)</text>
<text x="516.60" y="353.07" font-size="8.85" font-weight="normal" text-anchor="end" fill="#151515" font-family='"Liberation Sans", sans-serif' >Protein digestion and absorption</text>
<rect x="522.90" y="363.04" width="40.40" height="15.30" fill="#98dcd6" stroke="#6a6a6a" stroke-width="0.7" />
<text x="565.70" y="370.66" font-size="6.2" font-weight="normal" text-anchor="start" fill="#333" font-family='"Liberation Sans", sans-serif' >7(1.76)</text>
<text x="516.60" y="373.81" font-size="8.85" font-weight="normal" text-anchor="end" fill="#151515" font-family='"Liberation Sans", sans-serif' >ECM-receptor interaction</text>
<rect x="522.90" y="383.78" width="46.50" height="15.30" fill="#88d4dc" stroke="#6a6a6a" stroke-width="0.7" />
<text x="571.80" y="391.40" font-size="6.2" font-weight="normal" text-anchor="start" fill="#333" font-family='"Liberation Sans", sans-serif' >8(1.53)</text>
<text x="516.60" y="394.55" font-size="8.85" font-weight="normal" text-anchor="end" fill="#151515" font-family='"Liberation Sans", sans-serif' >Estrogen signaling pathway</text>
<path d="M390.00,386.28 L403.30,390.58 L389.10,394.98 Z" fill="#f03c1c"/>
<rect x="522.90" y="404.52" width="23.40" height="15.30" fill="#7ed0e0" stroke="#6a6a6a" stroke-width="0.7" />
<text x="548.70" y="412.14" font-size="6.2" font-weight="normal" text-anchor="start" fill="#333" font-family='"Liberation Sans", sans-serif' >4(1.4)</text>
<text x="516.60" y="415.29" font-size="8.85" font-weight="normal" text-anchor="end" fill="#151515" font-family='"Liberation Sans", sans-serif' >Folate biosynthesis</text>
<path d="M423.70,407.02 L437.00,411.32 L422.80,415.72 Z" fill="#f03c1c"/>
<rect x="522.90" y="425.26" width="28.90" height="15.30" fill="#7accE2" stroke="#6a6a6a" stroke-width="0.7" />
<text x="554.20" y="432.88" font-size="6.2" font-weight="normal" text-anchor="start" fill="#333" font-family='"Liberation Sans", sans-serif' >5(1.35)</text>
<text x="516.60" y="436.03" font-size="8.85" font-weight="normal" text-anchor="end" fill="#151515" font-family='"Liberation Sans", sans-serif' >Regulation of lipolysis in adipocytes</text>
<path d="M359.30,427.76 L372.60,432.06 L358.40,436.46 Z" fill="#f03c1c"/>
<rect x="522.90" y="446.00" width="28.90" height="15.30" fill="#76cae4" stroke="#6a6a6a" stroke-width="0.7" />
<text x="554.20" y="453.62" font-size="6.2" font-weight="normal" text-anchor="start" fill="#333" font-family='"Liberation Sans", sans-serif' >5(1.28)</text>
<text x="516.60" y="456.77" font-size="8.85" font-weight="normal" text-anchor="end" fill="#151515" font-family='"Liberation Sans", sans-serif' >Basal cell carcinoma</text>
<rect x="522.90" y="466.74" width="34.60" height="15.30" fill="#5cb6f0" stroke="#6a6a6a" stroke-width="0.7" />
<text x="559.90" y="474.36" font-size="6.2" font-weight="normal" text-anchor="start" fill="#333" font-family='"Liberation Sans", sans-serif' >6(0.82)</text>
<text x="516.60" y="477.51" font-size="8.85" font-weight="normal" text-anchor="end" fill="#151515" font-family='"Liberation Sans", sans-serif' >Relaxin signaling pathway</text>
<path d="M399.20,469.24 L412.50,473.54 L398.30,477.94 Z" fill="#f03c1c"/>
<rect x="522.90" y="487.48" width="23.40" height="15.30" fill="#54aef4" stroke="#6a6a6a" stroke-width="0.7" />
<text x="548.70" y="495.10" font-size="6.2" font-weight="normal" text-anchor="start" fill="#333" font-family='"Liberation Sans", sans-serif' >4(0.66)</text>
<text x="516.60" y="498.25" font-size="8.85" font-weight="normal" text-anchor="end" fill="#151515" font-family='"Liberation Sans", sans-serif' >Cortisol synthesis and secretion</text>
<rect x="522.90" y="508.22" width="23.40" height="15.30" fill="#54aef4" stroke="#6a6a6a" stroke-width="0.7" />
<text x="548.70" y="515.84" font-size="6.2" font-weight="normal" text-anchor="start" fill="#333" font-family='"Liberation Sans", sans-serif' >4(0.64)</text>
<text x="516.60" y="518.99" font-size="8.85" font-weight="normal" text-anchor="end" fill="#151515" font-family='"Liberation Sans", sans-serif' >Antigen processing and presentation</text>
<rect x="522.90" y="528.96" width="40.40" height="15.30" fill="#54aef4" stroke="#6a6a6a" stroke-width="0.7" />
<text x="565.70" y="536.58" font-size="6.2" font-weight="normal" text-anchor="start" fill="#333" font-family='"Liberation Sans", sans-serif' >7(0.64)</text>
<text x="516.60" y="539.73" font-size="8.85" font-weight="normal" text-anchor="end" fill="#151515" font-family='"Liberation Sans", sans-serif' >Transcriptional misregulation in cancer</text>
<rect x="522.90" y="549.70" width="40.40" height="15.30" fill="#52acf4" stroke="#6a6a6a" stroke-width="0.7" />
<text x="565.70" y="557.32" font-size="6.2" font-weight="normal" text-anchor="start" fill="#333" font-family='"Liberation Sans", sans-serif' >7(0.59)</text>
<text x="516.60" y="560.47" font-size="8.85" font-weight="normal" text-anchor="end" fill="#151515" font-family='"Liberation Sans", sans-serif' >Focal adhesion</text>
<rect x="522.90" y="570.44" width="17.60" height="15.30" fill="#52acf4" stroke="#6a6a6a" stroke-width="0.7" />
<text x="542.90" y="578.06" font-size="6.2" font-weight="normal" text-anchor="start" fill="#333" font-family='"Liberation Sans", sans-serif' >3(0.53)</text>
<text x="516.60" y="581.21" font-size="8.85" font-weight="normal" text-anchor="end" fill="#151515" font-family='"Liberation Sans", sans-serif' >Graft-versus-host disease</text>
<line x1="520.80" y1="340.00" x2="520.80" y2="588.60" stroke="#aaa" stroke-width="1.6" />
<line x1="518.70" y1="588.00" x2="631.90" y2="588.00" stroke="#999" stroke-width="1.5" />
<text x="522.90" y="598.84" font-size="8.5" font-weight="normal" text-anchor="middle" fill="#333" font-family='"Liberation Sans", sans-serif' >0</text>
<text x="536.78" y="598.84" font-size="8.5" font-weight="normal" text-anchor="middle" fill="#333" font-family='"Liberation Sans", sans-serif' >2</text>
<text x="550.66" y="598.84" font-size="8.5" font-weight="normal" text-anchor="middle" fill="#333" font-family='"Liberation Sans", sans-serif' >4</text>
<text x="564.54" y="598.84" font-size="8.5" font-weight="normal" text-anchor="middle" fill="#333" font-family='"Liberation Sans", sans-serif' >6</text>
<text x="578.42" y="598.84" font-size="8.5" font-weight="normal" text-anchor="middle" fill="#333" font-family='"Liberation Sans", sans-serif' >8</text>
<text x="592.30" y="598.84" font-size="8.5" font-weight="normal" text-anchor="middle" fill="#333" font-family='"Liberation Sans", sans-serif' >10</text>
<text x="606.18" y="598.84" font-size="8.5" font-weight="normal" text-anchor="middle" fill="#333" font-family='"Liberation Sans", sans-serif' >12</text>
<text x="620.06" y="598.84" font-size="8.5" font-weight="normal" text-anchor="middle" fill="#333" font-family='"Liberation Sans", sans-serif' >14</text>
<text x="576.40" y="614.74" font-size="11.85" font-weight="bold" text-anchor="middle" fill="#111" font-family='"Liberation Sans", sans-serif' >Gene percent</text>
<text transform="translate(354.43,463.50) rotate(-90)" font-size="11.54" font-weight="bold" text-anchor="middle" fill="#111" font-family='"Liberation Sans", sans-serif'>Pathway</text>
<rect x="642.90" y="357.90" width="4.60" height="36.90" fill="url(#cbj)" stroke="none" stroke-width="1" />
<line x1="646.00" y1="362.00" x2="647.50" y2="362.00" stroke="#fff" stroke-width="0.6" />
<text x="649.00" y="364.26" font-size="6.3" font-weight="normal" text-anchor="start" fill="#333" font-family='"Liberation Sans", sans-serif' >3</text>
<line x1="646.00" y1="375.30" x2="647.50" y2="375.30" stroke="#fff" stroke-width="0.6" />
<text x="649.00" y="377.56" font-size="6.3" font-weight="normal" text-anchor="start" fill="#333" font-family='"Liberation Sans", sans-serif' >2</text>
<line x1="646.00" y1="387.40" x2="647.50" y2="387.40" stroke="#fff" stroke-width="0.6" />
<text x="649.00" y="389.66" font-size="6.3" font-weight="normal" text-anchor="start" fill="#333" font-family='"Liberation Sans", sans-serif' >1</text>
<text x="643.50" y="349.18" font-size="5.8" font-weight="normal" text-anchor="start" fill="#333" font-family='"Liberation Sans", sans-serif' >-log<tspan font-size="4" dy="1.5">10</tspan><tspan dy="-1.5">(Qvalue)</tspan></text>
<text x="0.2" y="659.8" font-size="17.5" font-weight="bold" fill="#000" font-family='"Liberation Sans", sans-serif'>i</text>
<text x="59.70" y="672.45" font-size="11.6" font-weight="bold" text-anchor="middle" fill="#111" font-family='"Liberation Sans", sans-serif' >non-ARPBP</text>
<text x="131.30" y="672.45" font-size="11.6" font-weight="bold" text-anchor="middle" fill="#111" font-family='"Liberation Sans", sans-serif' >ARPBP</text>
<line x1="34.70" y1="676.10" x2="81.70" y2="676.10" stroke="#333" stroke-width="1.7" />
<line x1="105.80" y1="676.10" x2="152.80" y2="676.10" stroke="#333" stroke-width="1.7" />
<rect x="28.80" y="682.50" width="20.97" height="17.47" fill="#e07e67" stroke="none" stroke-width="1" />
<rect x="50.77" y="682.50" width="20.97" height="17.47" fill="#4e8060" stroke="none" stroke-width="1" />
<rect x="72.74" y="682.50" width="20.97" height="17.47" fill="#e3957a" stroke="none" stroke-width="1" />
<rect x="94.71" y="682.50" width="20.97" height="17.47" fill="#2f6a50" stroke="none" stroke-width="1" />
<rect x="116.68" y="682.50" width="20.97" height="17.47" fill="#1f4d3e" stroke="none" stroke-width="1" />
<rect x="138.65" y="682.50" width="20.97" height="17.47" fill="#1f5040" stroke="none" stroke-width="1" />
<text x="164.40" y="696.65" font-size="12.6" font-weight="normal" text-anchor="start" fill="#111" font-family='"Liberation Sans", sans-serif' >Adipoq</text>
<rect x="28.80" y="700.97" width="20.97" height="17.47" fill="#92ab7e" stroke="none" stroke-width="1" />
<rect x="50.77" y="700.97" width="20.97" height="17.47" fill="#1f4e3f" stroke="none" stroke-width="1" />
<rect x="72.74" y="700.97" width="20.97" height="17.47" fill="#6f9572" stroke="none" stroke-width="1" />
<rect x="94.71" y="700.97" width="20.97" height="17.47" fill="#e3a07e" stroke="none" stroke-width="1" />
<rect x="116.68" y="700.97" width="20.97" height="17.47" fill="#e5bb8c" stroke="none" stroke-width="1" />
<rect x="138.65" y="700.97" width="20.97" height="17.47" fill="#e27e69" stroke="none" stroke-width="1" />
<text x="164.40" y="715.12" font-size="12.6" font-weight="normal" text-anchor="start" fill="#111" font-family='"Liberation Sans", sans-serif' >Col6a1</text>
<rect x="28.80" y="719.44" width="20.97" height="17.47" fill="#5e8d6a" stroke="none" stroke-width="1" />
<rect x="50.77" y="719.44" width="20.97" height="17.47" fill="#1f4e3f" stroke="none" stroke-width="1" />
<rect x="72.74" y="719.44" width="20.97" height="17.47" fill="#5a8a67" stroke="none" stroke-width="1" />
<rect x="94.71" y="719.44" width="20.97" height="17.47" fill="#e5977a" stroke="none" stroke-width="1" />
<rect x="116.68" y="719.44" width="20.97" height="17.47" fill="#e4ab83" stroke="none" stroke-width="1" />
<rect x="138.65" y="719.44" width="20.97" height="17.47" fill="#e27e69" stroke="none" stroke-width="1" />
<text x="164.40" y="733.59" font-size="12.6" font-weight="normal" text-anchor="start" fill="#111" font-family='"Liberation Sans", sans-serif' >Col3a1</text>
<rect x="28.80" y="737.91" width="20.97" height="17.47" fill="#77996f" stroke="none" stroke-width="1" />
<rect x="50.77" y="737.91" width="20.97" height="17.47" fill="#1f4e3f" stroke="none" stroke-width="1" />
<rect x="72.74" y="737.91" width="20.97" height="17.47" fill="#5e8d6a" stroke="none" stroke-width="1" />
<rect x="94.71" y="737.91" width="20.97" height="17.47" fill="#e3896e" stroke="none" stroke-width="1" />
<rect x="116.68" y="737.91" width="20.97" height="17.47" fill="#e4a980" stroke="none" stroke-width="1" />
<rect x="138.65" y="737.91" width="20.97" height="17.47" fill="#e27e69" stroke="none" stroke-width="1" />
<text x="164.40" y="752.06" font-size="12.6" font-weight="normal" text-anchor="start" fill="#111" font-family='"Liberation Sans", sans-serif' >Col1a1</text>
<rect x="28.80" y="756.38" width="20.97" height="17.47" fill="#1f4e3f" stroke="none" stroke-width="1" />
<rect x="50.77" y="756.38" width="20.97" height="17.47" fill="#94ad80" stroke="none" stroke-width="1" />
<rect x="72.74" y="756.38" width="20.97" height="17.47" fill="#1f4e3f" stroke="none" stroke-width="1" />
<rect x="94.71" y="756.38" width="20.97" height="17.47" fill="#e3886d" stroke="none" stroke-width="1" />
<rect x="116.68" y="756.38" width="20.97" height="17.47" fill="#e3866c" stroke="none" stroke-width="1" />
<rect x="138.65" y="756.38" width="20.97" height="17.47" fill="#e27e69" stroke="none" stroke-width="1" />
<text x="164.40" y="770.53" font-size="12.6" font-weight="normal" text-anchor="start" fill="#111" font-family='"Liberation Sans", sans-serif' >Cthrc1</text>
<rect x="28.80" y="774.85" width="20.97" height="17.47" fill="#285a47" stroke="none" stroke-width="1" />
<rect x="50.77" y="774.85" width="20.97" height="17.47" fill="#1f4e3f" stroke="none" stroke-width="1" />
<rect x="72.74" y="774.85" width="20.97" height="17.47" fill="#2d6048" stroke="none" stroke-width="1" />
<rect x="94.71" y="774.85" width="20.97" height="17.47" fill="#e3977b" stroke="none" stroke-width="1" />
<rect x="116.68" y="774.85" width="20.97" height="17.47" fill="#e3917a" stroke="none" stroke-width="1" />
<rect x="138.65" y="774.85" width="20.97" height="17.47" fill="#e27e69" stroke="none" stroke-width="1" />
<text x="164.40" y="789.00" font-size="12.6" font-weight="normal" text-anchor="start" fill="#111" font-family='"Liberation Sans", sans-serif' >C1qtnf6</text>
<rect x="28.80" y="793.32" width="20.97" height="17.47" fill="#c0cc96" stroke="none" stroke-width="1" />
<rect x="50.77" y="793.32" width="20.97" height="17.47" fill="#1f4e3f" stroke="none" stroke-width="1" />
<rect x="72.74" y="793.32" width="20.97" height="17.47" fill="#93ad80" stroke="none" stroke-width="1" />
<rect x="94.71" y="793.32" width="20.97" height="17.47" fill="#e3a07e" stroke="none" stroke-width="1" />
<rect x="116.68" y="793.32" width="20.97" height="17.47" fill="#e5c690" stroke="none" stroke-width="1" />
<rect x="138.65" y="793.32" width="20.97" height="17.47" fill="#e27e69" stroke="none" stroke-width="1" />
<text x="164.40" y="807.47" font-size="12.6" font-weight="normal" text-anchor="start" fill="#111" font-family='"Liberation Sans", sans-serif' >Col5a1</text>
<rect x="28.80" y="811.79" width="20.97" height="17.47" fill="#5e8d6a" stroke="none" stroke-width="1" />
<rect x="50.77" y="811.79" width="20.97" height="17.47" fill="#1f4e3f" stroke="none" stroke-width="1" />
<rect x="72.74" y="811.79" width="20.97" height="17.47" fill="#568667" stroke="none" stroke-width="1" />
<rect x="94.71" y="811.79" width="20.97" height="17.47" fill="#e38a6e" stroke="none" stroke-width="1" />
<rect x="116.68" y="811.79" width="20.97" height="17.47" fill="#e3a580" stroke="none" stroke-width="1" />
<rect x="138.65" y="811.79" width="20.97" height="17.47" fill="#e27e69" stroke="none" stroke-width="1" />
<text x="164.40" y="825.94" font-size="12.6" font-weight="normal" text-anchor="start" fill="#111" font-family='"Liberation Sans", sans-serif' >Col1a2</text>
<rect x="28.80" y="830.26" width="20.97" height="17.47" fill="#a6bb88" stroke="none" stroke-width="1" />
<rect x="50.77" y="830.26" width="20.97" height="17.47" fill="#1f4e3f" stroke="none" stroke-width="1" />
<rect x="72.74" y="830.26" width="20.97" height="17.47" fill="#98b082" stroke="none" stroke-width="1" />
<rect x="94.71" y="830.26" width="20.97" height="17.47" fill="#e38a6e" stroke="none" stroke-width="1" />
<rect x="116.68" y="830.26" width="20.97" height="17.47" fill="#e3a17f" stroke="none" stroke-width="1" />
<rect x="138.65" y="830.26" width="20.97" height="17.47" fill="#e27e69" stroke="none" stroke-width="1" />
<text x="164.40" y="844.41" font-size="12.6" font-weight="normal" text-anchor="start" fill="#111" font-family='"Liberation Sans", sans-serif' >Lox</text>
<rect x="28.80" y="848.73" width="20.97" height="17.47" fill="#aebf8d" stroke="none" stroke-width="1" />
<rect x="50.77" y="848.73" width="20.97" height="17.47" fill="#1f4e3f" stroke="none" stroke-width="1" />
<rect x="72.74" y="848.73" width="20.97" height="17.47" fill="#8eaa7d" stroke="none" stroke-width="1" />
<rect x="94.71" y="848.73" width="20.97" height="17.47" fill="#e3b98b" stroke="none" stroke-width="1" />
<rect x="116.68" y="848.73" width="20.97" height="17.47" fill="#e6d59d" stroke="none" stroke-width="1" />
<rect x="138.65" y="848.73" width="20.97" height="17.47" fill="#e27e69" stroke="none" stroke-width="1" />
<text x="164.40" y="862.88" font-size="12.6" font-weight="normal" text-anchor="start" fill="#111" font-family='"Liberation Sans", sans-serif' >Col6a3</text>
<rect x="28.80" y="867.20" width="20.97" height="17.47" fill="#1f4e3f" stroke="none" stroke-width="1" />
<rect x="50.77" y="867.20" width="20.97" height="17.47" fill="#4a7b5e" stroke="none" stroke-width="1" />
<rect x="72.74" y="867.20" width="20.97" height="17.47" fill="#225543" stroke="none" stroke-width="1" />
<rect x="94.71" y="867.20" width="20.97" height="17.47" fill="#e3bf8e" stroke="none" stroke-width="1" />
<rect x="116.68" y="867.20" width="20.97" height="17.47" fill="#e4cf98" stroke="none" stroke-width="1" />
<rect x="138.65" y="867.20" width="20.97" height="17.47" fill="#e27e69" stroke="none" stroke-width="1" />
<text x="164.40" y="881.35" font-size="12.6" font-weight="normal" text-anchor="start" fill="#111" font-family='"Liberation Sans", sans-serif' >Col7a1</text>
<rect x="28.80" y="885.67" width="20.97" height="17.47" fill="#2f6650" stroke="none" stroke-width="1" />
<rect x="50.77" y="885.67" width="20.97" height="17.47" fill="#1f4e3f" stroke="none" stroke-width="1" />
<rect x="72.74" y="885.67" width="20.97" height="17.47" fill="#2d6048" stroke="none" stroke-width="1" />
<rect x="94.71" y="885.67" width="20.97" height="17.47" fill="#e38d70" stroke="none" stroke-width="1" />
<rect x="116.68" y="885.67" width="20.97" height="17.47" fill="#e3ab83" stroke="none" stroke-width="1" />
<rect x="138.65" y="885.67" width="20.97" height="17.47" fill="#e27e69" stroke="none" stroke-width="1" />
<text x="164.40" y="899.82" font-size="12.6" font-weight="normal" text-anchor="start" fill="#111" font-family='"Liberation Sans", sans-serif' >Col16a1</text>
<rect x="28.80" y="904.14" width="20.97" height="17.47" fill="#a3b888" stroke="none" stroke-width="1" />
<rect x="50.77" y="904.14" width="20.97" height="17.47" fill="#1f4e3f" stroke="none" stroke-width="1" />
<rect x="72.74" y="904.14" width="20.97" height="17.47" fill="#7b9c74" stroke="none" stroke-width="1" />
<rect x="94.71" y="904.14" width="20.97" height="17.47" fill="#e4c890" stroke="none" stroke-width="1" />
<rect x="116.68" y="904.14" width="20.97" height="17.47" fill="#e6e2a4" stroke="none" stroke-width="1" />
<rect x="138.65" y="904.14" width="20.97" height="17.47" fill="#e27e69" stroke="none" stroke-width="1" />
<text x="164.40" y="918.29" font-size="12.6" font-weight="normal" text-anchor="start" fill="#111" font-family='"Liberation Sans", sans-serif' >Col12a1</text>
<defs><linearGradient id="cbi" x1="0" y1="0" x2="0" y2="1"><stop offset="0" stop-color="#e27e69"/><stop offset="0.2" stop-color="#e4a47e"/><stop offset="0.4" stop-color="#e6d29a"/><stop offset="0.5" stop-color="#e6eeaa"/><stop offset="0.6" stop-color="#b8c898"/><stop offset="0.8" stop-color="#6a9070"/><stop offset="1" stop-color="#1f4e3f"/></linearGradient></defs>
<rect x="220.40" y="744.80" width="10.50" height="83.70" fill="url(#cbi)" stroke="none" stroke-width="1" />
<line x1="230.90" y1="744.80" x2="233.00" y2="744.80" stroke="#333" stroke-width="0.8" />
<text x="233.30" y="747.48" font-size="7.5" font-weight="normal" text-anchor="start" fill="#333" font-family='"Liberation Sans", sans-serif' >1.00</text>
<line x1="230.90" y1="761.54" x2="233.00" y2="761.54" stroke="#333" stroke-width="0.8" />
<text x="233.30" y="764.22" font-size="7.5" font-weight="normal" text-anchor="start" fill="#333" font-family='"Liberation Sans", sans-serif' >0.80</text>
<line x1="230.90" y1="778.28" x2="233.00" y2="778.28" stroke="#333" stroke-width="0.8" />
<text x="233.30" y="780.96" font-size="7.5" font-weight="normal" text-anchor="start" fill="#333" font-family='"Liberation Sans", sans-serif' >0.60</text>
<line x1="230.90" y1="795.02" x2="233.00" y2="795.02" stroke="#333" stroke-width="0.8" />
<text x="233.30" y="797.70" font-size="7.5" font-weight="normal" text-anchor="start" fill="#333" font-family='"Liberation Sans", sans-serif' >0.40</text>
<line x1="230.90" y1="811.76" x2="233.00" y2="811.76" stroke="#333" stroke-width="0.8" />
<text x="233.30" y="814.44" font-size="7.5" font-weight="normal" text-anchor="start" fill="#333" font-family='"Liberation Sans", sans-serif' >0.20</text>
<line x1="230.90" y1="828.50" x2="233.00" y2="828.50" stroke="#333" stroke-width="0.8" />
<text x="233.30" y="831.18" font-size="7.5" font-weight="normal" text-anchor="start" fill="#333" font-family='"Liberation Sans", sans-serif' >0.00</text>
<text x="249.6" y="666.0" font-size="17.5" font-weight="bold" fill="#000" font-family='"Liberation Sans", sans-serif'>k</text>
<rect x="276.70" y="661.00" width="407.20" height="264.30" fill="#dddad8" stroke="none" stroke-width="1" />
<defs><linearGradient id="arr" x1="0" y1="0" x2="1" y2="0"><stop offset="0" stop-color="#ee6a1c"/><stop offset="0.28" stop-color="#cc8440"/><stop offset="0.45" stop-color="#a09060"/><stop offset="0.62" stop-color="#78b088"/><stop offset="0.8" stop-color="#6adcc4"/><stop offset="1" stop-color="#72f4e4"/></linearGradient><linearGradient id="gPro" x1="0" y1="0" x2="1" y2="0"><stop offset="0" stop-color="#d03c26"/><stop offset="1" stop-color="#f4cabe"/></linearGradient><linearGradient id="gAnti" x1="0" y1="0" x2="1" y2="0"><stop offset="0" stop-color="#cc3418"/><stop offset="0.5" stop-color="#dc6a52"/><stop offset="1" stop-color="#f0c0b4"/></linearGradient><linearGradient id="gCell" x1="0" y1="0" x2="1" y2="0"><stop offset="0" stop-color="#34b45a"/><stop offset="0.6" stop-color="#7ccc8c"/><stop offset="1" stop-color="#d6e8da"/></linearGradient><linearGradient id="gMyo" x1="0" y1="0" x2="1" y2="0"><stop offset="0" stop-color="#c4eeb8"/><stop offset="0.5" stop-color="#70e05c"/><stop offset="1" stop-color="#3ee028"/></linearGradient><linearGradient id="gAng" x1="0" y1="0" x2="1" y2="0"><stop offset="0" stop-color="#b8eaac"/><stop offset="0.5" stop-color="#7ee26c"/><stop offset="1" stop-color="#40e02c"/></linearGradient><linearGradient id="gTgf" x1="0" y1="0" x2="1" y2="0"><stop offset="0" stop-color="#f6e6cc"/><stop offset="0.5" stop-color="#eab27c"/><stop offset="1" stop-color="#e07424"/></linearGradient><linearGradient id="gCol" x1="0" y1="0" x2="1" y2="0"><stop offset="0" stop-color="#3cbcc8"/><stop offset="0.6" stop-color="#88dcdc"/><stop offset="1" stop-color="#d8f4f2"/></linearGradient></defs>
<rect x="297.60" y="679.90" width="367.00" height="3.20" fill="url(#arr)" stroke="none" stroke-width="1" />
<path d="M663.6,675.8 L676.2,681.5 L663.6,687.2 Z" fill="#72f2e2"/>
<text x="486.80" y="674.27" font-size="9.4" font-weight="bold" text-anchor="middle" fill="#111" font-family='"Liberation Sans", sans-serif' >Wound Healing</text>
<rect x="291.90" y="909.70" width="367.00" height="3.20" fill="url(#arr)" stroke="none" stroke-width="1" />
<path d="M658.4,905.4 L671.0,911.3 L658.4,917.3 Z" fill="#72f2e2"/>
<text x="302.10" y="921.38" font-size="9.45" font-weight="bold" text-anchor="start" fill="#1a1a1a" font-family='"Liberation Sans", sans-serif' >Inflammation Phase</text>
<text x="420.70" y="921.40" font-size="9.5" font-weight="bold" text-anchor="start" fill="#1a1a1a" font-family='"Liberation Sans", sans-serif' >Proliferation Phase</text>
<text x="549.90" y="921.07" font-size="9.42" font-weight="bold" text-anchor="start" fill="#1a1a1a" font-family='"Liberation Sans", sans-serif' >Remolding Phase</text>
<line x1="407.30" y1="682.80" x2="407.30" y2="910.00" stroke="#1a1a1a" stroke-width="1.3" stroke-dasharray="3.9,2.1"/>
<line x1="536.10" y1="682.80" x2="536.10" y2="910.00" stroke="#1a1a1a" stroke-width="1.3" stroke-dasharray="3.9,2.1"/>
<text x="298.20" y="698.48" font-size="10" font-weight="bold" fill="#1a1a1a" font-family='"Liberation Sans", sans-serif'>Stage <tspan font-family='"Liberation Serif", serif'>I</tspan></text>
<text x="412.30" y="698.28" font-size="10" font-weight="bold" fill="#1a1a1a" font-family='"Liberation Sans", sans-serif'>Stage <tspan font-family='"Liberation Serif", serif'>II</tspan></text>
<text x="544.70" y="698.18" font-size="10" font-weight="bold" fill="#1a1a1a" font-family='"Liberation Sans", sans-serif'>Stage <tspan font-family='"Liberation Serif", serif'>III</tspan></text>
<path d="M296.30,711.20 L390.20,711.20 L390.20,730.80 Z" fill="url(#gPro)"/>
<path d="M296.30,716.40 L296.30,735.70 L390.20,735.70 Z" fill="url(#gAnti)"/>
<path d="M296.90,743.40 L296.90,762.60 L389.40,762.60 Z" fill="url(#gCell)"/>
<text x="310.80" y="719.80" font-size="9.5" font-weight="bold" text-anchor="start" fill="#111" font-family='"Liberation Sans", sans-serif' >Pro-Inflammatory</text>
<text x="298.80" y="733.68" font-size="9.45" font-weight="bold" text-anchor="start" fill="#111" font-family='"Liberation Sans", sans-serif' >Anti-Inflammation</text>
<text x="297.30" y="760.53" font-size="10.15" font-weight="bold" text-anchor="start" fill="#111" font-family='"Liberation Sans", sans-serif' >Cell proliferation</text>
<path d="M426.50,765.30 L519.40,765.30 L519.40,784.30 Z" fill="url(#gMyo)"/>
<path d="M426.50,771.50 L426.50,790.50 L519.40,790.50 Z" fill="url(#gAng)"/>
<path d="M426.50,800.10 L426.50,819.50 L519.40,819.50 Z" fill="url(#gTgf)"/>
<path d="M425.00,827.30 L425.00,846.50 L518.40,846.50 Z" fill="url(#gCell)"/>
<text x="455.10" y="767.28" font-size="9.45" font-weight="bold" text-anchor="start" fill="#111" font-family='"Liberation Sans", sans-serif' >Myofibroblast</text>
<text x="455.10" y="775.48" font-size="9.43" font-weight="bold" text-anchor="start" fill="#111" font-family='"Liberation Sans", sans-serif' >Differentiation</text>
<text x="431.60" y="787.47" font-size="9.41" font-weight="bold" text-anchor="start" fill="#111" font-family='"Liberation Sans", sans-serif' >Angiogenesis</text>
<text x="429.10" y="817.72" font-size="9.28" font-weight="bold" text-anchor="start" fill="#111" font-family='"Liberation Sans", sans-serif' >TGF-β3/TGF-β1</text>
<text x="425.40" y="844.12" font-size="10.1" font-weight="bold" text-anchor="start" fill="#111" font-family='"Liberation Sans", sans-serif' >Cell proliferation</text>
<path d="M558.30,847.10 L558.30,866.80 L652.20,866.80 Z" fill="url(#gCol)"/>
<path d="M558.30,869.10 L558.30,887.90 L652.20,887.90 Z" fill="url(#gCell)"/>
<text x="559.90" y="861.79" font-size="9.48" font-weight="bold" text-anchor="start" fill="#111" font-family='"Liberation Sans", sans-serif' >Collegen Remolding</text>
<text x="559.00" y="885.30" font-size="10.05" font-weight="bold" text-anchor="start" fill="#111" font-family='"Liberation Sans", sans-serif' >Cell proliferation</text>
<text x="543.60" y="773.88" font-size="10.0" font-weight="bold" text-anchor="start" fill="#111" font-family='"Liberation Sans", sans-serif' >Rgenerative</text>
<text x="543.60" y="787.78" font-size="10.0" font-weight="bold" text-anchor="start" fill="#111" font-family='"Liberation Sans", sans-serif' >Healing</text>
<text x="644.70" y="759.31" font-size="9.8" font-weight="bold" text-anchor="start" fill="#111" font-family='"Liberation Sans", sans-serif' >Scar</text>
<text x="644.70" y="773.54" font-size="9.9" font-weight="bold" text-anchor="start" fill="#111" font-family='"Liberation Sans", sans-serif' >Healing</text>
<line x1="548.20" y1="821.50" x2="548.20" y2="804.50" stroke="#52c236" stroke-width="2.0" />
<path d="M543.9,805.4 L548.2,796.6 L552.6,805.4 Z" fill="#52c236"/>
<line x1="662.80" y1="799.50" x2="662.80" y2="784.50" stroke="#52c236" stroke-width="2.0" />
<path d="M657.9,785.4 L662.7,775.3 L667.6,785.4 Z" fill="#52c236"/>
<rect x="282.30" y="705.50" width="12.50" height="84.70" fill="#8b8987" stroke="none" stroke-width="1" />
<text transform="translate(291.92,747.85) rotate(-90)" font-size="9.4" font-weight="bold" text-anchor="middle" fill="#111" font-family='"Liberation Sans", sans-serif'>ARPBP Treatment</text>
<rect x="392.10" y="701.90" width="12.40" height="104.70" fill="#8b8987" stroke="none" stroke-width="1" />
<text transform="translate(394.91,754.25) rotate(90)" font-size="9.47" font-weight="bold" text-anchor="middle" fill="#111" font-family='"Liberation Sans", sans-serif'>non-ARPBP Treatment</text>
<rect x="411.10" y="759.80" width="12.20" height="84.60" fill="#8b8987" stroke="none" stroke-width="1" />
<text transform="translate(420.62,802.10) rotate(-90)" font-size="9.55" font-weight="bold" text-anchor="middle" fill="#111" font-family='"Liberation Sans", sans-serif'>ARPBP Treatment</text>
<rect x="519.90" y="755.10" width="11.80" height="102.20" fill="#8b8987" stroke="none" stroke-width="1" />
<text transform="translate(522.42,806.20) rotate(90)" font-size="9.45" font-weight="bold" text-anchor="middle" fill="#111" font-family='"Liberation Sans", sans-serif'>non-ARPBP Treatment</text>
<rect x="541.80" y="821.10" width="12.00" height="83.70" fill="#8b8987" stroke="none" stroke-width="1" />
<text transform="translate(551.19,862.95) rotate(-90)" font-size="9.46" font-weight="bold" text-anchor="middle" fill="#111" font-family='"Liberation Sans", sans-serif'>ARPBP Treatment</text>
<rect x="656.30" y="798.90" width="12.40" height="104.10" fill="#8b8987" stroke="none" stroke-width="1" />
<text transform="translate(659.11,850.95) rotate(90)" font-size="9.47" font-weight="bold" text-anchor="middle" fill="#111" font-family='"Liberation Sans", sans-serif'>non-ARPBP Treatment</text>
</svg>
</body></html>
